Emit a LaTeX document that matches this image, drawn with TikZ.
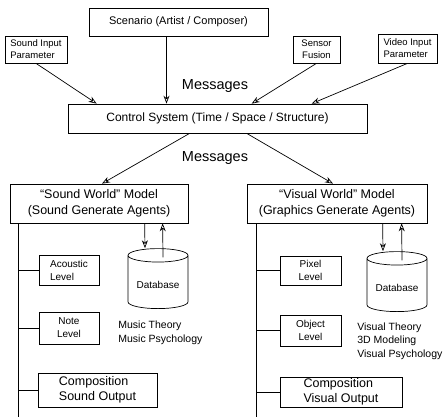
\documentclass[tikz,border=0pt]{standalone}
\usepackage{fontspec}
\setmainfont{Liberation Sans}
\usetikzlibrary{shapes.geometric,arrows.meta}
\begin{document}
\begin{tikzpicture}[>={Stealth[open,length=8pt,width=6pt]}, x=1pt, y=-1pt, line width=0.7pt]
\tikzstyle{every node}=[inner sep=1pt,align=center]
\tikzstyle{box}=[draw,rectangle]
\tikzstyle{dbase}=[draw,cylinder,shape border rotate=90,aspect=0.3,minimum width=60pt,minimum height=60pt,font=\fontsize{10}{12}\selectfont]
\useasboundingbox (0,0) rectangle (445,417);
% top row
\node[box,minimum width=179,minimum height=28,font=\fontsize{11}{13}\selectfont](scen) at (178.5,22) {Scenario (Artist / Composer)};
\node[box,minimum width=62,minimum height=27,align=left,font=\fontsize{9.5}{12}\selectfont](sin) at (36,49.5) {Sound Input\\Parameter};
\node[box,minimum width=47,minimum height=27,font=\fontsize{9.5}{12}\selectfont](sens) at (316.5,49.5) {Sensor\\Fusion};
\node[box,minimum width=59,minimum height=29,align=left,font=\fontsize{9.5}{12}\selectfont](vin) at (407.5,48.5) {Video Input\\Parameter};
\node[font=\fontsize{14.5}{16}\selectfont](msg1) at (215,86) {Messages};
\node[box,minimum width=299,minimum height=29,font=\fontsize{12}{14}\selectfont](ctrl) at (217.5,118.5) {Control System (Time / Space / Structure)};
\node[font=\fontsize{14.5}{16}\selectfont](msg2) at (215,158) {Messages};
% world models
\node[box,minimum width=178,minimum height=39,font=\fontsize{12.5}{16}\selectfont](snd) at (99,203.5) {``Sound World'' Model\\(Sound Generate Agents)};
\node[box,minimum width=180,minimum height=39,font=\fontsize{12.5}{16}\selectfont](vis) at (337,203.5) {``Visual World'' Model\\(Graphics Generate Agents)};
% sound side
\node[box,minimum width=60,minimum height=30,align=left,font=\fontsize{10}{13}\selectfont](acl) at (69,270) {Acoustic\\Level};
\node[box,minimum width=60,minimum height=32,font=\fontsize{10}{13}\selectfont](ntl) at (69,328) {Note\\Level};
\node[box,minimum width=119,minimum height=34,align=left,font=\fontsize{12.5}{15}\selectfont](cso) at (97.5,390) {Composition\\Sound Output};
\node[dbase](db1) at (158,283) {\\Database};
\node[anchor=west,align=left,font=\fontsize{10.5}{14}\selectfont](mth) at (117,333) {Music Theory\\Music Psychology};
% visual side
\node[box,minimum width=61,minimum height=29,font=\fontsize{10}{13}\selectfont](pxl) at (310.5,270.5) {Pixel\\Level};
\node[box,minimum width=61,minimum height=31,font=\fontsize{10}{13}\selectfont](obl) at (310.5,330.5) {Object\\Level};
\node[box,minimum width=122,minimum height=30,align=left,font=\fontsize{12.5}{15}\selectfont](cvo) at (341,392) {Composition\\Visual Output};
\node[dbase](db2) at (397,286) {\\Database};
\node[anchor=west,align=left,font=\fontsize{10.5}{13.5}\selectfont](vth) at (356,341) {Visual Theory\\3D Modeling\\Visual Psychology};
\coordinate (send) at (18,417);
\coordinate (vend) at (256,417);
% arrows
\draw[->] ([xshift=-12pt]scen.south) -- ([xshift=-12pt]scen.south |- ctrl.north);
\draw[->] (sin.south) -- ([xshift=29pt]ctrl.north west);
\draw[->] (sens.south) -- ([xshift=184pt]ctrl.north west);
\draw[->] (vin.south) -- ([xshift=244pt]ctrl.north west);
\draw[->] ([xshift=122pt]ctrl.south west) -- ([xshift=3pt]snd.north);
\draw[->] ([xshift=179pt]ctrl.south west) -- ([xshift=-4pt]vis.north);
\draw[->] ([xshift=135pt]snd.south west) -- ([xshift=-13pt]db1.top);
\draw[->] ([xshift=5pt,yshift=-9pt]db1.top) -- ([xshift=153pt]snd.south west);
\draw[->] ([xshift=136pt]vis.south west) -- ([xshift=-14pt]db2.top);
\draw[->] ([xshift=5pt,yshift=-9pt]db2.top) -- ([xshift=155pt]vis.south west);
% side lines
\draw (snd.south -| send) -- (send);
\draw (acl.west) -- (acl.west -| send);
\draw (ntl.west) -- (ntl.west -| send);
\draw (cso.west) -- (cso.west -| send);
\draw (vis.south -| vend) -- (vend);
\draw (pxl.west) -- (pxl.west -| vend);
\draw (obl.west) -- (obl.west -| vend);
\draw (cvo.west) -- (cvo.west -| vend);
\end{tikzpicture}
\end{document}
